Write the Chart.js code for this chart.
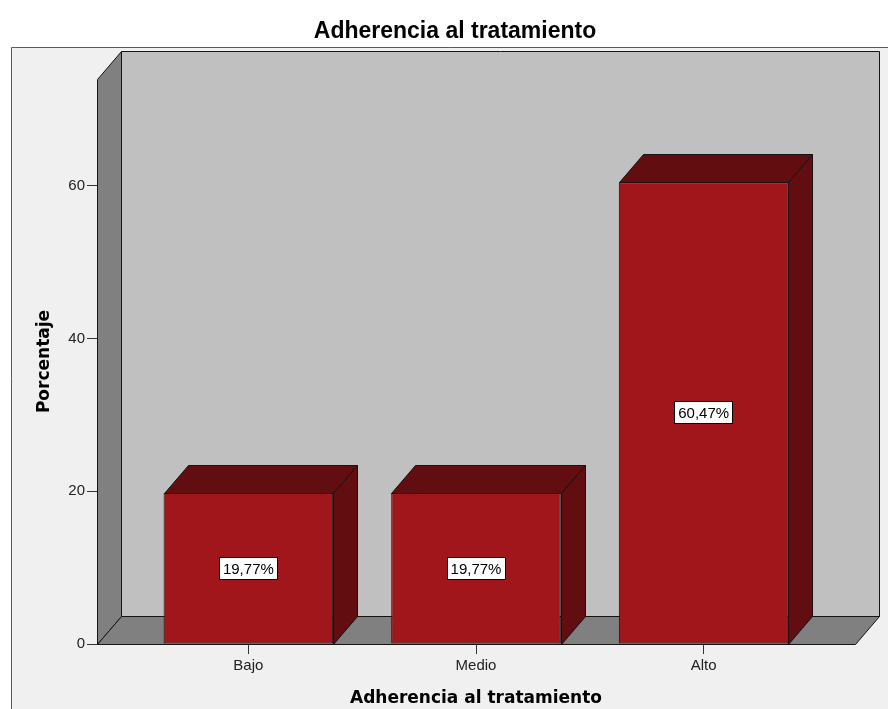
<!DOCTYPE html>
<html>
<head>
<meta charset="utf-8">
<script src="https://cdn.jsdelivr.net/npm/chart.js@4/dist/chart.umd.min.js"></script>
<style>
  html, body { margin: 0; padding: 0; background: #ffffff; }
  #wrap { width: 888px; height: 709px; }
</style>
</head>
<body>
<div id="wrap"><canvas id="chart" width="888" height="709"></canvas></div>
<script>
// Adherencia al tratamiento: porcentaje por nivel
const categories = ['Bajo', 'Medio', 'Alto'];
const porcentajes = [19.77, 19.77, 60.47];
const yTickValues = [0, 20, 40, 60];
const chartTitle = 'Adherencia al tratamiento';
const xAxisTitle = 'Adherencia al tratamiento';
const yAxisTitle = 'Porcentaje';

// depth of the 3D box (pixels to the right and upward)
const DEPTH_X = 24;
const DEPTH_Y = 28;

const FRONT_RED = '#a1161a';
const SHADE_RED = '#620e10';
const WALL_BACK = '#c0c0c0';
const WALL_SIDE = '#808080';
const EDGE = '#141414';

function px(v) { return Math.round(v) + 0.5; }

function polygon(ctx, pts, fill) {
  ctx.beginPath();
  pts.forEach(([x, y], i) => (i ? ctx.lineTo(px(x), px(y)) : ctx.moveTo(px(x), px(y))));
  ctx.closePath();
  ctx.fillStyle = fill;
  ctx.fill();
  ctx.stroke();
}

function formatPct(v) {
  return v.toFixed(2).replace('.', ',') + '%';
}

const box3d = {
  id: 'box3d',
  beforeDraw(chart) {
    const { ctx, width, height } = chart;
    ctx.save();
    ctx.fillStyle = '#ffffff';
    ctx.fillRect(0, 0, width, height);
    ctx.fillStyle = '#f0f0f0';
    ctx.fillRect(11, 47, width - 11, height - 47);
    ctx.strokeStyle = '#5a5a5a';
    ctx.lineWidth = 1;
    ctx.beginPath();
    ctx.moveTo(11.5, height);
    ctx.lineTo(11.5, 47.5);
    ctx.lineTo(width, 47.5);
    ctx.stroke();
    ctx.restore();
  },
  beforeDatasetsDraw(chart) {
    const { ctx, chartArea: a } = chart;
    const L = a.left, R = a.right, T = a.top, B = a.bottom;
    ctx.save();
    ctx.lineWidth = 1;
    ctx.strokeStyle = EDGE;
    ctx.lineJoin = 'miter';
    polygon(ctx, [[L + DEPTH_X, T - DEPTH_Y], [R + DEPTH_X, T - DEPTH_Y], [R + DEPTH_X, B - DEPTH_Y], [L + DEPTH_X, B - DEPTH_Y]], WALL_BACK);
    polygon(ctx, [[L, T], [L + DEPTH_X, T - DEPTH_Y], [L + DEPTH_X, B - DEPTH_Y], [L, B]], WALL_SIDE);
    polygon(ctx, [[L, B], [L + DEPTH_X, B - DEPTH_Y], [R + DEPTH_X, B - DEPTH_Y], [R, B]], WALL_SIDE);
    ctx.restore();
  },
  afterDatasetsDraw(chart) {
    const { ctx } = chart;
    const meta = chart.getDatasetMeta(0);
    const values = chart.data.datasets[0].data;
    ctx.save();
    ctx.lineWidth = 1;
    ctx.strokeStyle = EDGE;
    meta.data.forEach((bar, i) => {
      const { x, y, base, width } = bar.getProps(['x', 'y', 'base', 'width'], true);
      const l = x - width / 2, r = x + width / 2;
      // top face
      polygon(ctx, [[l, y], [l + DEPTH_X, y - DEPTH_Y], [r + DEPTH_X, y - DEPTH_Y], [r, y]], SHADE_RED);
      // right side face
      polygon(ctx, [[r, y], [r + DEPTH_X, y - DEPTH_Y], [r + DEPTH_X, base - DEPTH_Y], [r, base]], SHADE_RED);

      // value label in a white box
      const text = formatPct(values[i].y);
      ctx.font = '15px "Liberation Sans", Arial, sans-serif';
      const tw = ctx.measureText(text).width;
      const bw = Math.round(tw + 8), bh = 23;
      const cy = (y + base) / 2;
      const bx = Math.round(x - bw / 2), by = Math.round(cy - bh / 2);
      ctx.fillStyle = '#ffffff';
      ctx.fillRect(bx, by, bw, bh);
      ctx.strokeStyle = '#000000';
      ctx.strokeRect(bx + 0.5, by + 0.5, bw - 1, bh - 1);
      ctx.strokeStyle = EDGE;
      ctx.fillStyle = '#000000';
      ctx.textAlign = 'center';
      ctx.textBaseline = 'middle';
      ctx.fillText(text, x, by + bh / 2 + 1);
    });
    ctx.restore();
  }
};

const tickFont = { family: '"Liberation Sans", Arial, sans-serif', size: 15 };
const axisTitleFont = { family: '"DejaVu Sans", sans-serif', size: 17, weight: 'bold' };

new Chart(document.getElementById('chart'), {
  type: 'bar',
  data: {
    datasets: [{
      label: yAxisTitle,
      data: porcentajes.map((v, i) => ({ x: i, y: v })),
      backgroundColor: FRONT_RED,
      borderColor: EDGE,
      borderWidth: 1,
      borderSkipped: false,
      barPercentage: 1,
      categoryPercentage: 0.745
    }]
  },
  options: {
    responsive: false,
    animation: false,
    devicePixelRatio: 1,
    layout: { padding: { top: 0, left: 55, right: 33, bottom: 0 } },
    plugins: {
      legend: { display: false },
      tooltip: { enabled: false },
      title: {
        display: true,
        text: chartTitle,
        color: '#000000',
        font: { family: '"Liberation Sans", Arial, sans-serif', size: 23, weight: 'bold' },
        padding: { top: 18, bottom: 33.4 }
      }
    },
    scales: {
      x: {
        type: 'linear',
        offset: false,
        min: -0.665,
        max: 2.665,
        afterBuildTicks: s => { s.ticks = categories.map((_, i) => ({ value: i })); },
        afterFit: s => { s.height = 65; },
        ticks: {
          callback: v => categories[v],
          font: tickFont,
          color: '#222222',
          padding: 3,
          maxRotation: 0,
          autoSkip: false
        },
        grid: { offset: false, drawOnChartArea: false, drawTicks: true, tickLength: 10, color: '#333333' },
        border: { display: false },
        title: { display: true, text: xAxisTitle, color: '#000000', font: axisTitleFont, padding: { top: 0, bottom: 0 } }
      },
      y: {
        min: 0,
        max: 74,
        afterBuildTicks: s => { s.ticks = yTickValues.map(v => ({ value: v })); },
        afterFit: s => { s.width = 42; },
        ticks: { font: tickFont, color: '#222222', padding: 2 },
        grid: { drawOnChartArea: false, drawTicks: true, tickLength: 10, color: '#333333' },
        border: { display: false },
        title: { display: true, text: yAxisTitle, color: '#000000', font: axisTitleFont, padding: { top: -21, bottom: 0 } }
      }
    }
  },
  plugins: [box3d]
});
</script>
</body>
</html>
